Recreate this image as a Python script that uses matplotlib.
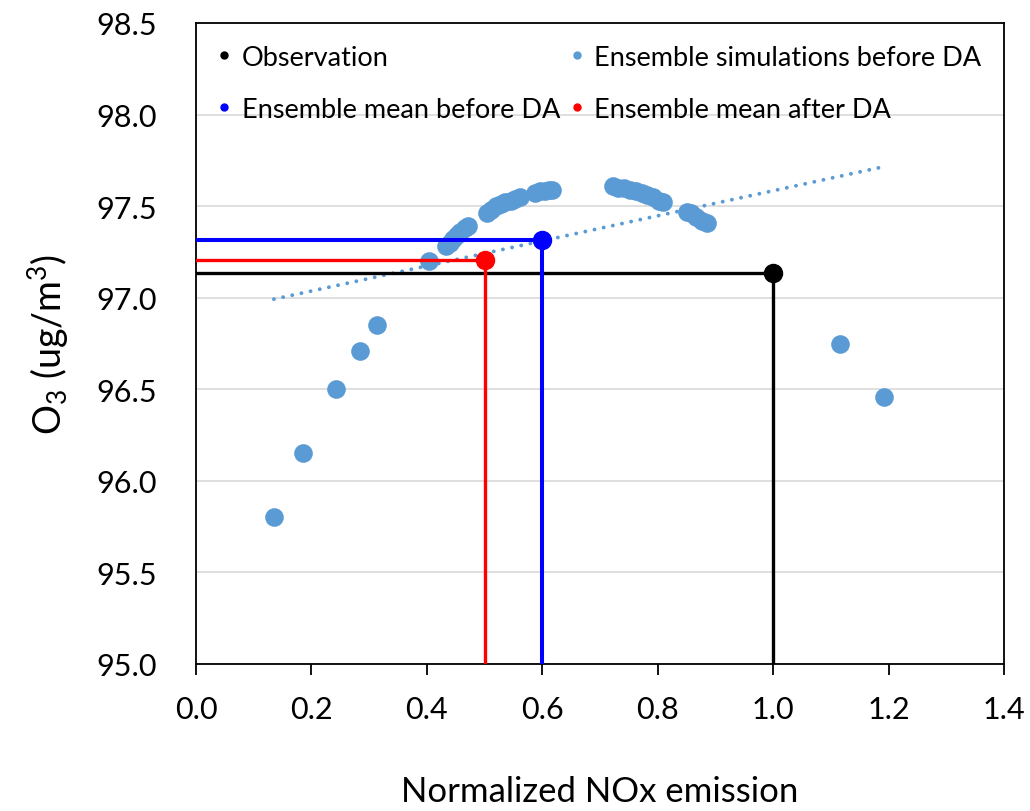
import numpy as np
import matplotlib.pyplot as plt
from matplotlib.lines import Line2D

plt.rcParams['font.family'] = ['Lato', 'DejaVu Sans']
plt.rcParams['mathtext.fontset'] = 'custom'
plt.rcParams['mathtext.rm'] = 'Lato'
plt.rcParams['mathtext.it'] = 'Lato:italic'

# ensemble members before DA (normalized NOx emission, O3)
ens_x = [0.135, 0.185, 0.242, 0.284, 0.313, 0.403,
         0.434, 0.440, 0.446, 0.452, 0.458, 0.466, 0.472,
         0.505, 0.512, 0.520, 0.528, 0.536, 0.545, 0.553, 0.561,
         0.588, 0.596, 0.604, 0.612, 0.617,
         0.722, 0.732, 0.742, 0.752, 0.762, 0.772, 0.782, 0.792, 0.802, 0.810,
         0.850, 0.858, 0.866, 0.876, 0.885,
         1.115, 1.192]
ens_y = [95.80, 96.15, 96.50, 96.71, 96.85, 97.20,
         97.28, 97.30, 97.32, 97.34, 97.36, 97.38, 97.39,
         97.46, 97.48, 97.50, 97.51, 97.52, 97.53, 97.54, 97.55,
         97.57, 97.58, 97.58, 97.59, 97.59,
         97.61, 97.60, 97.60, 97.59, 97.58, 97.57, 97.56, 97.55, 97.53, 97.52,
         97.47, 97.46, 97.44, 97.42, 97.41,
         96.75, 96.46]

obs = (1.0, 97.135)
mean_before = (0.6, 97.315)
mean_after = (0.5, 97.205)

ymin = 95.0
blue_pt = '#5B9BD5'

fig = plt.figure(figsize=(10.3, 8.12), dpi=100)
ax = fig.add_axes([196/1030, 1 - 665/812, 808/1030, 641/812])

# guide lines to the axes
ax.plot([0, obs[0], obs[0]], [obs[1], obs[1], ymin], color='black', lw=2.4, zorder=3)
ax.plot([0, mean_before[0], mean_before[0]], [mean_before[1], mean_before[1], ymin],
        color='#0000FF', lw=2.9, zorder=3)
ax.plot([0, mean_after[0], mean_after[0]], [mean_after[1], mean_after[1], ymin],
        color='#FF0000', lw=2.4, zorder=3)

ax.scatter(ens_x, ens_y, s=180, color=blue_pt, linewidths=0, zorder=2)

# linear trendline of the ensemble
k, b = np.polyfit(ens_x, ens_y, 1)
tx = np.array([min(ens_x), max(ens_x)])
ax.plot(tx, k * tx + b, color=blue_pt, lw=2.8, linestyle=(0, (0.01, 2.4)),
        dash_capstyle='round', zorder=2)

ax.plot(*obs, 'o', color='black', ms=13, zorder=4)
ax.plot(*mean_before, 'o', color='#0000FF', ms=13, zorder=4)
ax.plot(*mean_after, 'o', color='#FF0000', ms=13, zorder=4)

ax.set_xlim(0, 1.4)
ax.set_ylim(95.0, 98.5)
ax.set_xticks(np.arange(0, 1.41, 0.2))
ax.set_yticks(np.arange(95.0, 98.51, 0.5))
ax.set_xticklabels([f'{v:.1f}' for v in np.arange(0, 1.41, 0.2)])
ax.set_yticklabels([f'{v:.1f}' for v in np.arange(95.0, 98.51, 0.5)])
ax.grid(axis='y', color='#D9D9D9', lw=1.2, zorder=0)
ax.set_axisbelow(True)
for s in ax.spines.values():
    s.set_color('black')
    s.set_linewidth(1.3)
ax.tick_params(axis='x', direction='out', length=8, width=1.3, pad=14, labelsize=22)
ax.tick_params(axis='y', length=0, pad=28, labelsize=22)

ax.set_xlabel('Normalized NOx emission', fontsize=25, labelpad=38)
ax.set_ylabel('O$_3$ (ug/m$^3$)', fontsize=27, labelpad=18)

handles = [
    Line2D([], [], marker='o', ls='', color='black', ms=5),
    Line2D([], [], marker='o', ls='', color='#0000FF', ms=5),
    Line2D([], [], marker='o', ls='', color=blue_pt, ms=5),
    Line2D([], [], marker='o', ls='', color='#FF0000', ms=5),
]
labels = ['Observation', 'Ensemble mean before DA',
          'Ensemble simulations before DA', 'Ensemble mean after DA']
ax.legend(handles, labels, ncol=2, loc='upper left', bbox_to_anchor=(-0.005, 1.004),
          frameon=False, fontsize=19.5, handlelength=0.6, handletextpad=0.35,
          columnspacing=0.3, labelspacing=1.0)

fig.savefig('out.png', dpi=100)
